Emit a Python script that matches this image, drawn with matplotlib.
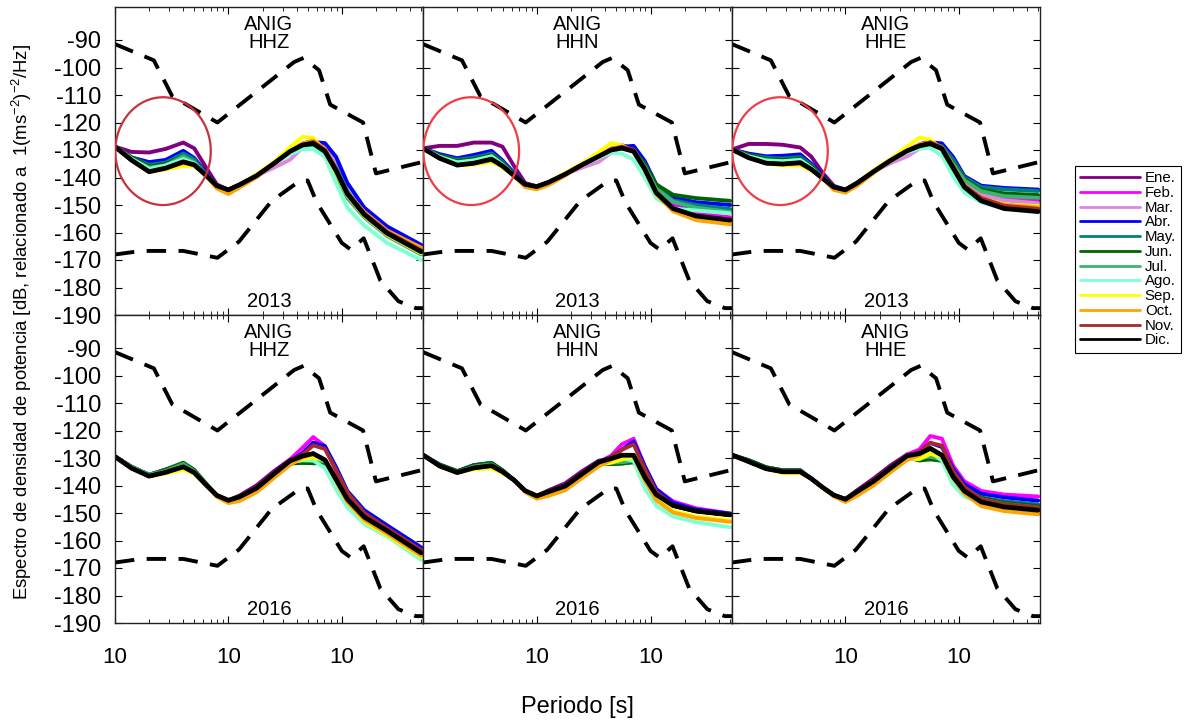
import numpy as np
import matplotlib
matplotlib.use("Agg")
import matplotlib.pyplot as plt
from matplotlib.patches import Ellipse
from matplotlib.ticker import FixedLocator, LogLocator, NullFormatter

plt.rcParams['font.family'] = ['Liberation Sans', 'DejaVu Sans']
plt.rcParams['mathtext.fontset'] = 'custom'
plt.rcParams['mathtext.rm'] = 'Liberation Sans'
plt.rcParams['mathtext.it'] = 'Liberation Sans'

# periods (s) where the monthly PSD curves were read
period = [0.1, 0.14, 0.2, 0.28, 0.4, 0.5, 0.63, 0.79, 1.0, 1.26, 1.78, 2.5,
          3.5, 4.5, 5.6, 7.1, 8.9, 11.2, 15.8, 25.1, 50.1]

months = ['Ene.', 'Feb.', 'Mar.', 'Abr.', 'May.', 'Jun.', 'Jul.', 'Ago.',
          'Sep.', 'Oct.', 'Nov.', 'Dic.']
components = ['HHZ', 'HHN', 'HHE']
years = ['2013', '2016']

# Peterson noise models (dashed)
nhnm_period = [0.1, 0.22, 0.32, 0.8, 3.8, 4.6, 6.3, 7.9, 15.4, 20.0, 52.0]
nhnm_db = [-91.5, -97.4, -110.5, -120.0, -98.0, -96.5, -101.0, -113.5, -120.0, -138.5, -134.3]
nlnm_period = [0.1, 0.17, 0.4, 0.8, 1.24, 2.4, 4.3, 5.0, 6.0, 10.0, 12.0, 15.6, 21.9, 31.6, 45.0, 52.0]
nlnm_db = [-168.0, -166.7, -166.7, -169.2, -163.3, -148.6, -141.1, -141.1, -149.0, -163.8,
           -166.2, -162.1, -177.5, -185.0, -187.5, -187.5]

# bundle (Dic.) per panel
base_hhz_2013 = [-128.8, -133.7, -137.9, -136.6, -134.3, -135.4, -139.1, -143.0, -144.5, -142.6, -139.3,
                 -135.0, -130.5, -128.2, -127.6, -130.5, -137.5, -146.0, -153.5, -160.3, -167.0]
base_hhn_2013 = [-129.4, -133.0, -135.5, -134.8, -133.3, -135.8, -139.3, -142.5, -143.3, -141.8, -138.8,
                 -135.4, -132.3, -130.0, -129.3, -130.5, -137.0, -145.5, -151.3, -154.0, -155.5]
base_hhe_2013 = [-129.8, -132.8, -134.8, -135.1, -134.6, -137.0, -140.3, -143.5, -144.5, -142.1, -137.8,
                 -133.8, -130.3, -128.5, -127.7, -129.6, -136.5, -143.5, -148.5, -151.3, -152.4]
base_hhz_2016 = [-129.5, -133.7, -136.6, -135.2, -133.2, -135.3, -139.6, -143.6, -145.4, -144.1, -140.9,
                 -135.9, -131.0, -129.3, -128.4, -130.7, -137.8, -145.0, -151.5, -156.5, -164.5]
base_hhn_2016 = [-128.9, -132.9, -135.3, -133.6, -132.8, -135.0, -138.0, -141.9, -143.8, -142.3, -140.2,
                 -135.8, -131.5, -130.2, -129.0, -129.0, -137.0, -143.3, -147.3, -149.3, -150.7]
base_hhe_2016 = [-128.9, -131.3, -133.9, -135.0, -135.0, -137.5, -140.7, -143.5, -145.0, -142.3, -138.4,
                 -133.7, -129.2, -128.4, -126.5, -129.0, -136.8, -142.0, -146.0, -147.8, -149.0]

# month deviations from the bundle (dB), rows Ene..Dic
dev_hhz_2013 = [
    [0, 3, 7, 7, 7, 6, 3, 0.5, 0, 0, 0, 0, 0, 0.5, 1, 1, 0.5, 0, 0, 0, 0],
    [0, 0.5, 1, 1, 1.5, 1, 0.5, 0, 0, 0, 0, 0, 0, 0, 1, 1.5, 1, 0.5, 0, 0, 0],
    [0, 0.5, 1, 1, 1.5, 1, 0.5, 0, 0, 0, 0, -1.5, -3, -1, 1, 2.5, 2, 1, 0.5, 0, 0],
    [0, 1, 3.5, 3, 4, 2.5, 1, 0, 0, 0, 0, 0, 0, 0, 0.5, 3, 5, 4, 2.5, 2.5, 2.5],
    [0, 1, 2.5, 2, 3, 2, 0.5, 0, 0, 0, 0, 0, 0, 0, 0, 0.5, 1, 1, 0.5, 0.5, 0],
    [0, 1, 2, 1.5, 2, 1, 0, 0, 0, 0, 0, 0, 0, 0, 0, 0, 0.5, 0.5, 0, 0, 0],
    [0, 0.5, 1.5, 1, 2, 1, 0, 0, 0, 0, 0, 0, 0, 0, -1, -1, -1.5, -1.5, -1, -1, -1],
    [0, 0.5, 1, 1, 1, 0.5, 0, 0, 0, 0, 0, 0, -1, -1.5, -2, -2, -4.5, -5, -4, -3.5, -3],
    [0, 0, 0, -0.5, -1.5, -0.5, 0, 0, 0, 0, 0.5, 0.5, 1.5, 3, 2, 0, -1, -0.5, -0.5, -0.5, -0.5],
    [0, 0, 0, 0, -0.5, 0, 0, -1, -1.5, -1, -0.5, 0, 0, 0.5, 1, 1, 0.5, 0.5, 1, 1, 1.5],
    [0, 0, 0, 0, 0, 0, 0, 0, 0, 0, 0, 0, 0, 0, 0.5, 0.5, 0.5, 0.5, 0.5, 0.5, 0.5],
    [0] * 21,
]
dev_hhn_2013 = [
    [0, 4.5, 7, 7.5, 6, 7, 3.5, 0.5, 0, 0, 0, 0, 0, 0.5, 1, 1, 1, 1, 2, 2.5, 3],
    [0, 0.5, 1, 1, 1, 1, 0.5, 0, 0, 0, 0, 0, 0, 0, 0.5, 1, 1, 1, 1, 1, 1],
    [0, 0.5, 1, 1, 1, 1, 0.5, 0, 0, 0, 0, -1, -2, -1, 0.5, 1.5, 2, 2, 2.5, 3, 3],
    [0, 1.5, 2.5, 3, 3, 2, 1, 0, 0, 0, 0, 0, 0, 0, 0.5, 2, 3, 3, 4, 5, 5.5],
    [0, 1, 2, 2, 2, 1.5, 0.5, 0, 0, 0, 0, 0, 0, 0, 0, 0.5, 1.5, 2, 3, 4, 4],
    [0, 1, 1.5, 1.5, 1.5, 1, 0.5, 0, 0, 0, 0, 0, 0, 0, 0, 0.5, 2, 3, 5, 6.5, 7],
    [0, 0.5, 1, 1, 1, 0.5, 0, 0, 0, 0, 0, 0, 0, 0, 0, 0, 1, 1.5, 2.5, 3, 3],
    [0, 0.5, 1, 1, 1, 0.5, 0, 0, 0, 0, 0, 0, -0.5, -1, -2, -3, -3, -2, 0, 2, 2.5],
    [0, 0, 0, -0.5, -1, -0.5, 0, 0, 0, 0, 0.5, 0.5, 1.5, 2.5, 1, 0, -0.5, -0.5, -0.5, -1, -1],
    [0, 0, 0, 0, -0.5, 0, 0, -1, -1, -1, -0.5, 0, 0, 0.5, 0.5, 0.5, 0, -0.5, -1, -1.5, -1.5],
    [0, 0, 0, 0, 0, 0, 0, 0, 0, 0, 0, 0, 0, 0, 0.5, 0.5, 0.5, 0, 0, 0, 0],
    [0] * 21,
]
dev_hhe_2013 = [
    [0, 5, 7, 7, 5.5, 4.6, 2, 0.5, 0, 0, 0, 0, 0, 0.5, 1, 1, 1, 1, 2, 3.5, 4],
    [0, 0.5, 1, 1, 1, 1, 0.5, 0, 0, 0, 0, 0, 0, 0, 0.5, 1, 1.5, 2, 2.5, 3.5, 3.5],
    [0, 0.5, 1, 1, 1, 1, 0.5, 0, 0, 0, 0, -1, -2, -1, 0.5, 1.5, 2, 2, 2.5, 3, 3],
    [0, 1.5, 2.5, 3, 3, 2, 1, 0, 0, 0, 0, 0, 0, 0, 0.5, 2, 4, 4, 5.5, 7.5, 8],
    [0, 1, 2, 2, 2, 1.5, 0.5, 0, 0, 0, 0, 0, 0, 0, 0, 1, 3, 3.5, 5, 7, 7.5],
    [0, 1, 1.5, 1.5, 1.5, 1, 0.5, 0, 0, 0, 0, 0, 0, 0, 0, 0.5, 2, 3, 4, 5.5, 6],
    [0, 0.5, 1, 1, 1, 0.5, 0, 0, 0, 0, 0, 0, 0, 0, 0, 0.5, 1.5, 2.5, 3.5, 4.5, 5],
    [0, 0.5, 1, 1, 1, 0.5, 0, 0, 0, 0, 0, 0, -0.5, -1, -1.5, -2.5, -3, -2, -0.5, 0, 0],
    [0, 0, 0, -0.5, -1, -0.5, 0, 0, 0, 0, 0.5, 0.5, 1.5, 3, 1.5, 0, 0, 0.5, 1, 1.5, 2],
    [0, 0, 0, 0, -0.5, 0, 0, -1, -1, -1, -0.5, 0, 0, 0.5, 0.5, 0.5, 0.5, 0.5, 1, 1.5, 1.5],
    [0, 0, 0, 0, 0, 0, 0, 0, 0, 0, 0, 0, 0, 0, 0.5, 0.5, 0.5, 0.5, 1, 1, 1],
    [0] * 21,
]
dev_hhz_2016 = [
    [0, 0, 0, 0, 0, 0, 0, 0, 0, 0.5, 1, 1, 0.5, 0, 0, 0, 0, 0, 0, 0, 0],
    [0, 0, 0, 0, 0, 0, 0, 0, 0, 0, 0, 0, 0.5, 3, 6, 5, 3, 2, 1.5, 1.5, 1.5],
    [0, 0, 0, 0, 0, 0, 0, 0, 0, 0, 0, 0, -1, 0, 0, 0, 0, 0, 0, 0, 0],
    [0, 0.5, 0.5, 1, 1, 0.5, 0, 0, 0, 0, 0, 0, 0, 1, 4, 5, 4.5, 3, 2.5, 2, 2],
    [0, 0.5, 0.5, 0.5, 1, 0.5, 0, 0, 0, 0, 0, 0, -1, -2, -3.5, -1, 0, 0, 0, 0, 0],
    [0, 0.5, 0.5, 1, 1.5, 1, 0.5, 0, 0, 0, 0, 0, -1, -2.5, -3.5, -1, 0, 0, 0, 0, 0],
    [0, 0.5, 0.5, 0.5, 1, 0.5, 0, 0, 0, 0, 0, 0, -0.5, -1.5, -2.5, -0.5, 0, 0, 0, 0, 0],
    [0, 0, 0, 0, 0, 0, 0, 0, 0, 0, 0, 0, -0.5, -1.5, -2.5, -3, -3.5, -3, -2.5, -2, -2.5],
    [0, 0, 0, -0.5, -1, -0.5, 0, 0, 0, 0, 0, -0.5, -1, -1, -1.5, 0, -0.5, -1, -1.5, -1.5, -1.5],
    [0, 0, 0, 0, 0, 0, 0, -0.5, -1, -1.5, -1.5, -1.5, -1.5, -0.5, 0, 0, -0.5, -1, -1, -1, -1],
    [0, 0, 0, 0, 0, 0, 0, 0, 0, 0, 0, 0, 0, 0.5, 3, 4, 3.5, 2.5, 1.5, 1, 1],
    [0] * 21,
]
dev_hhn_2016 = [
    [0, 0, 0, 0, 0, 0, 0, 0, 0, 0.5, 1, 1, 0.5, 0, 0, 0, 0, 0, 0, 0, 0],
    [0, 0, 0, 0, 0, 0, 0, 0, 0, 0, 0, 0, 0, 1, 4, 6, 4, 2, 1.5, 1, 0.5],
    [0] * 21,
    [0, 0.5, 0.5, 1, 1, 0.5, 0, 0, 0, 0, 0, 0, 0, 0.5, 2, 5, 4, 2, 1, 0.5, 0.5],
    [0, 0.5, 0.5, 0.5, 1, 0.5, 0, 0, 0, 0, 0, 0, -0.5, -2, -3, -2.5, 0, 0, 0, 0, 0],
    [0, 0.5, 0.5, 1, 1, 0.5, 0, 0, 0, 0, 0, 0, -0.5, -2, -3, -2.5, 0, 0, 0, 0, 0],
    [0, 0, 0, 0.5, 0.5, 0, 0, 0, 0, 0, 0, 0, 0, -1.5, -2.5, -2, 0, 0, 0, 0, 0],
    [0, 0, 0, 0, 0, 0, 0, 0, 0, 0, 0, 0, 0, -0.5, -1, -2, -4, -4, -4, -4, -4.5],
    [0, 0, 0, -0.5, -1, -0.5, 0, 0, 0, 0, 0, -0.5, -1, -1.5, -1.5, -0.5, -1, -1.5, -2, -2, -2],
    [0, 0, 0, 0, 0, 0, 0, -0.5, -1, -1.5, -1.5, -1.5, -1.5, -0.5, 0, 0, -1, -2, -2.5, -2.5, -2.5],
    [0, 0, 0, 0, 0, 0, 0, 0, 0, 0, 0, 0, 0, 0.5, 2, 4, 3, 1, 0, 0, 0],
    [0] * 21,
]
dev_hhe_2016 = [
    [0, 0, 0, 0, 0, 0, 0, 0, 0, 0.5, 1, 1, 0.5, 0, 0, 0, 0.5, 1, 1.5, 2, 2],
    [0, 0, 0, 0, 0, 0, 0, 0, 0, 0, 0, 0, 0.5, 1.5, 4.5, 6, 4, 3.5, 4, 4.5, 5],
    [0, 0, 0, 0, 0, 0, 0, 0, 0, 0, 0, 0, 0, 0, 0, 0, 0.5, 1, 1, 1, 1],
    [0, 0.5, 0.5, 0.5, 0.5, 0, 0, 0, 0, 0, 0, 0, 0, 0.5, 2, 3, 3, 2.5, 3, 3.5, 3.5],
    [0, 0.5, 0.5, 0.5, 0.5, 0, 0, 0, 0, 0, 0, 0, -0.5, -2, -3.5, -2, 0, 1, 1.5, 2, 2],
    [0, 0.5, 0.5, 0.5, 0.5, 0, 0, 0, 0, 0, 0, 0, -0.5, -2.5, -4, -2, 0, 1, 1.5, 1.5, 1.5],
    [0, 0, 0, 0, 0, 0, 0, 0, 0, 0, 0, 0, 0, -1.5, -3, -1.5, 0, 0.5, 1, 1, 1],
    [0, 0, 0, 0, 0, 0, 0, 0, 0, 0, 0, 0, 0, -0.5, -1, -2, -3, -2, -0.5, 0, 0],
    [0, 0, 0, -0.5, -0.5, 0, 0, 0, 0, 0, 0, -0.5, -1, -2, -2, -0.5, -0.5, -0.5, -0.5, -0.5, -0.5],
    [0, 0, 0, 0, 0, 0, 0, -0.5, -1, -1.5, -1.5, -1.5, -1.5, -0.5, 0, 0, -0.5, -1, -1.5, -1.5, -1.5],
    [0, 0, 0, 0, 0, 0, 0, 0, 0, 0, 0, 0, 0, 0.5, 2, 3.5, 2, 1.5, 1, 1, 1],
    [0] * 21,
]

month_colors = ['#800080', '#FF00FF', '#DD88DD', '#0000FF', '#008080', '#006400',
                '#3CB371', '#7FFFD4', '#FFFF00', '#FFA500', '#A52A2A', '#000000']

bases = [[base_hhz_2013, base_hhn_2013, base_hhe_2013],
         [base_hhz_2016, base_hhn_2016, base_hhe_2016]]
devs = [[dev_hhz_2013, dev_hhn_2013, dev_hhe_2013],
        [dev_hhz_2016, dev_hhn_2016, dev_hhe_2016]]

fig = plt.figure(figsize=(11.88, 7.21), dpi=100)

x_edges = [115, 423, 732, 1040]
row_top = [7, 315]
H = 308

handles = []
for r in range(2):
    for c in range(3):
        left = x_edges[c] / 1188
        width = (x_edges[c + 1] - x_edges[c]) / 1188
        bottom = 1 - (row_top[r] + H) / 721
        ax = fig.add_axes([left, bottom, width, H / 721])

        ax.plot(nhnm_period, nhnm_db, color='black', lw=2.8, dashes=(5, 3.2))
        ax.plot(nlnm_period, nlnm_db, color='black', lw=2.8, dashes=(5, 3.2))

        base = np.array(bases[r][c])
        for m in range(12):
            vals = base + np.array(devs[r][c][m])
            lw = 3.4 if m == 11 else 2.8
            ln, = ax.plot(period, vals, color=month_colors[m], lw=lw,
                          solid_joinstyle='round', solid_capstyle='round',
                          label=months[m])
            if r == 0 and c == 0:
                handles.append(ln)

        ax.set_xscale('log')
        ax.set_xlim(0.1, 52)
        ax.set_ylim(-190, -78)
        ax.set_yticks(np.arange(-190, -89, 10))
        ax.xaxis.set_major_locator(FixedLocator([0.1, 1, 10]))
        ax.xaxis.set_minor_locator(LogLocator(base=10, subs=np.arange(2, 10)))
        ax.xaxis.set_minor_formatter(NullFormatter())
        ax.tick_params(which='both', direction='in', top=True, right=True)
        ax.tick_params(which='major', length=5, width=0.8)
        ax.tick_params(which='minor', length=3, width=0.6)
        if c == 0:
            ax.set_yticklabels([str(v) for v in range(-190, -89, 10)], fontsize=17)
        else:
            ax.set_yticklabels([])
        if r == 1:
            xl = ['10', '10', '10'] if c == 0 else ['', '10', '10']
            ax.set_xticklabels(xl, fontsize=16)
        else:
            ax.set_xticklabels([])
        ax.tick_params(axis='y', pad=10)
        ax.tick_params(axis='x', pad=17)
        for sp in ax.spines.values():
            sp.set_linewidth(1.0)
            sp.set_color('#222222')

        ax.text(0.5, 0.975, 'ANIG\n' + components[c], transform=ax.transAxes,
                ha='center', va='top', fontsize=14.5, linespacing=0.95)
        ax.text(0.5, 0.025, years[r], transform=ax.transAxes,
                ha='center', va='baseline', fontsize=14.5)

        if r == 0:
            ring = '#C8323C' if c == 0 else '#F03C46'
            ax.add_patch(Ellipse((0.156, 0.532), 0.31, 0.35, transform=ax.transAxes,
                                 fill=False, edgecolor=ring, lw=1.6, zorder=5))

fig.text(22 / 1188, 1 - 322 / 721,
         'Espectro de densidad de potencia [dB, relacionado a  1(ms$^{-2}$)$^{-2}$/Hz]',
         rotation=90, ha='center', va='center', fontsize=13.3)
fig.text(577 / 1188, 1 - 707 / 721, 'Periodo [s]', ha='center', va='center', fontsize=17)

leg = fig.legend(handles=handles, loc='upper left',
                 bbox_to_anchor=(1075 / 1188, 1 - 166 / 721), borderaxespad=0,
                 fontsize=10.8, handlelength=4.0, handletextpad=0.3,
                 labelspacing=0.05, borderpad=0.35, fancybox=False,
                 edgecolor='black', framealpha=1)
leg.get_frame().set_linewidth(0.8)
for ln in leg.get_lines():
    ln.set_linewidth(2)

fig.savefig('out.png', dpi=100)
